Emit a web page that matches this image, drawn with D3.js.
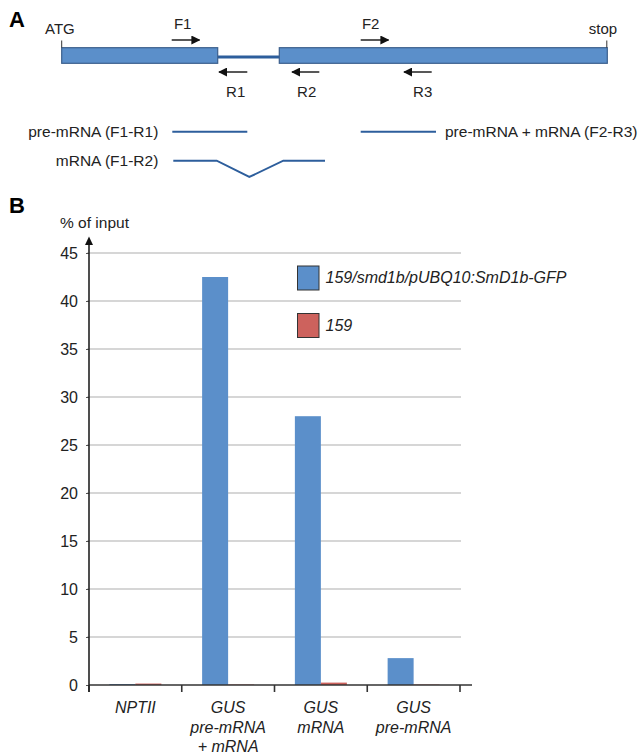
<!DOCTYPE html>
<html><head><meta charset="utf-8">
<script src="https://cdn.jsdelivr.net/npm/d3@7"></script>
<style>
html,body{margin:0;padding:0;background:#fff;}
svg{display:block;font-family:"Liberation Sans",Arial,sans-serif;}
</style></head>
<body>
<svg id="chart" width="643" height="755"></svg>
<script>
// ---------- data ----------
const categories = ["NPTII", "GUS pre-mRNA + mRNA", "GUS mRNA", "GUS pre-mRNA"];
const categoryLines = [["NPTII"], ["GUS", "pre-mRNA", "+ mRNA"], ["GUS", "mRNA"], ["GUS", "pre-mRNA"]];
const seriesNames = ["159/smd1b/pUBQ10:SmD1b-GFP", "159"];
const valuesSmD1b = [0.1, 42.5, 28.0, 2.8];
const values159 = [0.15, 0.05, 0.25, 0.05];
const yTicks = [0, 5, 10, 15, 20, 25, 30, 35, 40, 45];
const seriesColors = ["#5b8fca", "#cd625d"];

const svg = d3.select("#chart");
const FONT = 15.5;

// ---------- panel A: gene schematic ----------
const gA = svg.append("g");
gA.append("text").attr("x", 9).attr("y", 27).attr("font-size", 22).attr("font-weight", "bold").text("A");

const boxTop = 47.7, boxH = 15.6, midY = boxTop + boxH / 2;
const boxFill = "#5b8fca", boxStroke = "#3b5f8c", lineCol = "#2d5e9c";
// intron line
gA.append("line").attr("x1", 217.7).attr("x2", 279.3).attr("y1", midY + 1.5).attr("y2", midY + 1.5)
  .attr("stroke", lineCol).attr("stroke-width", 3);
// exons
[[61.7, 217.7], [279.3, 607.3]].forEach(([a, b]) => {
  gA.append("rect").attr("x", a).attr("y", boxTop).attr("width", b - a).attr("height", boxH)
    .attr("fill", boxFill).attr("stroke", boxStroke).attr("stroke-width", 1.2);
});
// ATG / stop ticks
gA.append("line").attr("x1", 61.7).attr("x2", 61.7).attr("y1", 40.5).attr("y2", boxTop).attr("stroke", "#333").attr("stroke-width", 1);
gA.append("line").attr("x1", 606.8).attr("x2", 606.8).attr("y1", 40.5).attr("y2", boxTop).attr("stroke", "#333").attr("stroke-width", 1);
gA.append("text").attr("x", 45).attr("y", 33.5).attr("font-size", 15).attr("fill", "#222").text("ATG");
gA.append("text").attr("x", 603).attr("y", 33.5).attr("font-size", 15).attr("fill", "#222").attr("text-anchor", "middle").text("stop");

// primer arrows
const defs = svg.append("defs");
defs.append("marker").attr("id", "ah").attr("viewBox", "0 0 10 10").attr("refX", 9).attr("refY", 5)
  .attr("markerWidth", 9).attr("markerHeight", 9).attr("markerUnits", "userSpaceOnUse").attr("orient", "auto")
  .append("path").attr("d", "M0,0 L10,5 L0,10 Z").attr("fill", "#111");
const primers = [
  {n: "F1", x1: 171.7, x2: 199.5, y: 40, tx: 182.7, ty: 28.5},
  {n: "F2", x1: 360.7, x2: 388.5, y: 40, tx: 370.7, ty: 28.5},
  {n: "R1", x1: 247.3, x2: 219, y: 72, tx: 235.7, ty: 97},
  {n: "R2", x1: 319.3, x2: 292, y: 72, tx: 306.7, ty: 97},
  {n: "R3", x1: 431.7, x2: 404, y: 72, tx: 422.7, ty: 97}
];
primers.forEach(p => {
  gA.append("line").attr("x1", p.x1).attr("x2", p.x2).attr("y1", p.y).attr("y2", p.y)
    .attr("stroke", "#111").attr("stroke-width", 1.4).attr("marker-end", "url(#ah)");
  gA.append("text").attr("x", p.tx).attr("y", p.ty).attr("text-anchor", "middle").attr("font-size", 15).attr("fill", "#222").text(p.n);
});

// amplicons
const ampCol = "#2d5e9c";
gA.append("text").attr("x", 158.3).attr("y", 137).attr("text-anchor", "end").attr("font-size", FONT).attr("fill", "#222").text("pre-mRNA (F1-R1)");
gA.append("line").attr("x1", 172.3).attr("x2", 247.3).attr("y1", 131.7).attr("y2", 131.7).attr("stroke", ampCol).attr("stroke-width", 2);
gA.append("text").attr("x", 158.3).attr("y", 166).attr("text-anchor", "end").attr("font-size", FONT).attr("fill", "#222").text("mRNA (F1-R2)");
gA.append("path").attr("d", d3.line()([[173.3, 160.7], [216.7, 160.7], [249.3, 177], [283.3, 160.7], [325, 160.7]]))
  .attr("fill", "none").attr("stroke", ampCol).attr("stroke-width", 2);
gA.append("line").attr("x1", 360.7).attr("x2", 436).attr("y1", 131.7).attr("y2", 131.7).attr("stroke", ampCol).attr("stroke-width", 2);
gA.append("text").attr("x", 445).attr("y", 137).attr("font-size", FONT).attr("fill", "#222").text("pre-mRNA + mRNA (F2-R3)");

// ---------- panel B: bar chart ----------
svg.append("text").attr("x", 9).attr("y", 213).attr("font-size", 22).attr("font-weight", "bold").text("B");

const x0 = 89, xEnd = 460;
const y = d3.scaleLinear().domain([0, 45]).range([685, 253]);
const x = d3.scaleBand().domain(categories).range([x0, xEnd]);
const x1 = d3.scaleBand().domain(seriesNames).range([x.bandwidth() / 2 - 26, x.bandwidth() / 2 + 26]);

const g = svg.append("g");
// gridlines
g.selectAll("line.grid").data(yTicks.filter(t => t > 0)).join("line").attr("class", "grid")
  .attr("x1", x0 - 2).attr("x2", xEnd + 1).attr("y1", d => y(d)).attr("y2", d => y(d))
  .attr("stroke", "#c9c9c9").attr("stroke-width", 1.6);

// y axis labels
const yAxis = d3.axisLeft(y).tickValues(yTicks).tickSize(3).tickPadding(8);
const ya = g.append("g").attr("transform", `translate(${x0},0)`).call(yAxis);
ya.select(".domain").remove();
ya.selectAll(".tick line").attr("stroke", "#555");
ya.selectAll(".tick text").attr("font-size", 16).attr("fill", "#222").attr("font-family", "Liberation Sans, Arial, sans-serif");

// bars
const series = [valuesSmD1b, values159];
series.forEach((vals, si) => {
  g.selectAll(null).data(vals).join("rect")
    .attr("x", (d, i) => x(categories[i]) + x1(seriesNames[si]))
    .attr("width", x1.bandwidth())
    .attr("y", d => y(d))
    .attr("height", d => y(0) - y(d))
    .attr("fill", seriesColors[si]);
});

// x axis
const xAxis = d3.axisBottom(x).tickValues([]).tickSizeOuter(0);
const xa = g.append("g").attr("transform", `translate(0,${y(0)})`).call(xAxis);
xa.select(".domain").attr("d", `M${x0},0H${xEnd + 12}`).attr("stroke", "#333").attr("stroke-width", 1.6);
// category boundary ticks
const bounds = categories.map(c => x(c)).concat([xEnd]);
g.selectAll("line.ctick").data(bounds).join("line").attr("class", "ctick")
  .attr("x1", d => d).attr("x2", d => d).attr("y1", y(0)).attr("y2", y(0) + 7)
  .attr("stroke", "#333").attr("stroke-width", 1.6);
// category labels
categoryLines.forEach((lines, i) => {
  const cx = x(categories[i]) + x.bandwidth() / 2;
  lines.forEach((ln, j) => {
    g.append("text").attr("x", cx).attr("y", 713 + j * 19.5).attr("text-anchor", "middle")
      .attr("font-size", 16).attr("font-style", "italic").attr("fill", "#222").text(ln);
  });
});

// y axis line with arrow
g.append("line").attr("x1", x0).attr("x2", x0).attr("y1", y(0) + 7).attr("y2", 244)
  .attr("stroke", "#222").attr("stroke-width", 1.6);
g.append("path").attr("d", `M${x0 - 4},245 L${x0},236.5 L${x0 + 4},245 Z`).attr("fill", "#111");
g.append("text").attr("x", 60).attr("y", 228).attr("font-size", FONT).attr("fill", "#222").text("% of input");

// legend
const leg = g.append("g");
seriesNames.forEach((s, i) => {
  const ly = 266 + i * 47.5;
  leg.append("rect").attr("x", 297.5).attr("y", ly).attr("width", 21.5).attr("height", 24)
    .attr("fill", seriesColors[i]).attr("stroke", "#333").attr("stroke-width", 1);
  leg.append("text").attr("x", 325.5).attr("y", ly + 17).attr("font-size", 16).attr("font-style", "italic")
    .attr("fill", "#222").text(s);
});
</script>
</body></html>
